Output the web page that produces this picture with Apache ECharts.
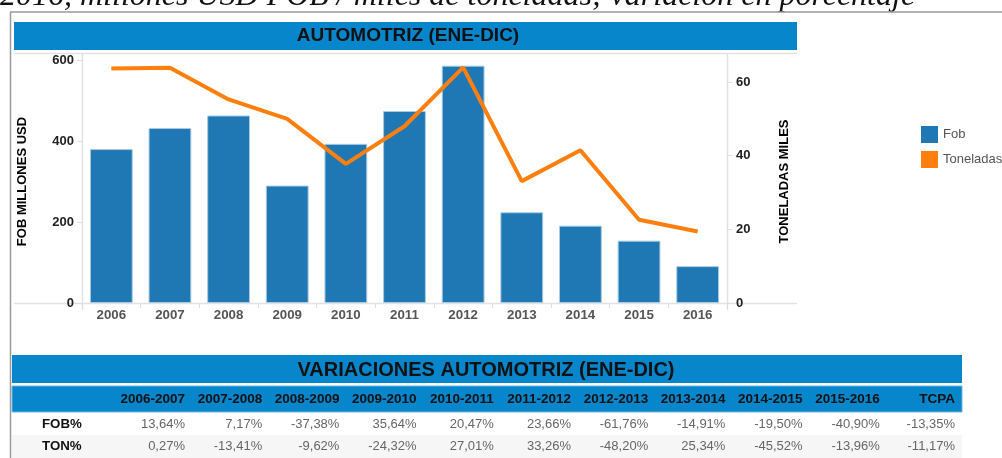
<!DOCTYPE html>
<html>
<head>
<meta charset="utf-8">
<script src="https://cdn.jsdelivr.net/npm/echarts@6/dist/echarts.min.js"></script>
<style>
  html, body { margin: 0; padding: 0; background: #fff; }
  #chart { width: 1002px; height: 458px; }
</style>
</head>
<body>
<div id="chart"></div>
<script>
// data
const years = ['2006', '2007', '2008', '2009', '2010', '2011', '2012', '2013', '2014', '2015', '2016'];
const fob = [380, 432, 463, 290, 393, 474, 586, 224, 191, 154, 91];
const toneladas = [63.7, 63.9, 55.3, 50.0, 37.8, 48.0, 64.0, 33.1, 41.5, 22.6, 19.4];

const periods = ['2006-2007', '2007-2008', '2008-2009', '2009-2010', '2010-2011', '2011-2012',
  '2012-2013', '2013-2014', '2014-2015', '2015-2016', 'TCPA'];
const fobVar = ['13,64%', '7,17%', '-37,38%', '35,64%', '20,47%', '23,66%', '-61,76%', '-14,91%', '-19,50%', '-40,90%', '-13,35%'];
const tonVar = ['0,27%', '-13,41%', '-9,62%', '-24,32%', '27,01%', '33,26%', '-48,20%', '25,34%', '-45,52%', '-13,96%', '-11,17%'];

const FONT = '"Liberation Sans", Arial, sans-serif';
const BLUE = '#0786cc';

const chart = echarts.init(document.getElementById('chart'));

// table built from the arrays above
const tableGraphics = [];
const colRight = (i) => i < 10 ? 185 + i * 77.2 : 955;
periods.forEach((p, i) => {
  tableGraphics.push({ type: 'text', x: colRight(i), y: 399,
    style: { text: p, fill: '#111', font: 'bold 13.5px ' + FONT, align: 'right', verticalAlign: 'middle' } });
  tableGraphics.push({ type: 'text', x: colRight(i), y: 424,
    style: { text: fobVar[i], fill: '#666', font: '13px ' + FONT, align: 'right', verticalAlign: 'middle' } });
  tableGraphics.push({ type: 'text', x: colRight(i), y: 446,
    style: { text: tonVar[i], fill: '#666', font: '13px ' + FONT, align: 'right', verticalAlign: 'middle' } });
});

const option = {
  animation: false,
  textStyle: { fontFamily: FONT },
  grid: { left: 82, right: 275, top: 60, bottom: 155 },
  legend: {
    orient: 'vertical', left: 921, top: 126, padding: 0,
    itemWidth: 17, itemHeight: 17, itemGap: 8,
    itemStyle: { borderWidth: 0 },
    textStyle: { color: '#555', fontSize: 13, fontFamily: FONT },
    data: [{ name: 'Fob', icon: 'rect' }, { name: 'Toneladas', icon: 'rect' }]
  },
  xAxis: {
    type: 'category', data: years,
    axisLine: { show: false },
    axisTick: { show: true, length: 5, lineStyle: { color: '#ddd' } },
    axisLabel: { color: '#555', fontWeight: 'bold', fontSize: 13.3, margin: 6 }
  },
  yAxis: [
    {
      type: 'value', min: 0, max: 600, interval: 200,
      name: 'FOB MILLONES USD', nameLocation: 'middle', nameGap: 53, nameRotate: 90,
      nameTextStyle: { color: '#000', fontWeight: 'bold', fontSize: 13 },
      axisLine: { show: false },
      axisTick: { show: true, length: 5, lineStyle: { color: '#ddd' } },
      axisLabel: { color: '#222', fontWeight: 'bold', fontSize: 13, margin: 8 },
      splitLine: { show: false }
    },
    {
      type: 'value', min: 0, max: 66, interval: 20,
      name: 'TONELADAS MILES', nameLocation: 'middle', nameGap: 51, nameRotate: 90,
      nameTextStyle: { color: '#000', fontWeight: 'bold', fontSize: 13 },
      axisLine: { show: false },
      axisTick: { show: true, length: 5, lineStyle: { color: '#ddd' } },
      axisLabel: { color: '#222', fontWeight: 'bold', fontSize: 13, margin: 9, showMaxLabel: false },
      splitLine: { show: false }
    }
  ],
  series: [
    {
      name: 'Fob', type: 'bar', data: fob, yAxisIndex: 0,
      barCategoryGap: '27%',
      itemStyle: { color: '#1f77b4', borderColor: '#a9cbe3', borderWidth: 1 }
    },
    {
      name: 'Toneladas', type: 'line', data: toneladas, yAxisIndex: 1,
      showSymbol: false, symbol: 'none',
      itemStyle: { color: '#ff7f0e' },
      lineStyle: { color: '#ff7f0e', width: 4 }
    }
  ],
  graphic: [
    // cut-off caption at the very top
    { type: 'text', x: 0, y: 13, style: { text: '2016, millones USD FOB / miles de toneladas; variación en porcentaje',
      fill: '#111', font: 'italic 32px "Liberation Serif", serif', verticalAlign: 'bottom' } },
    // outer frame
    { type: 'line', shape: { x1: 10, y1: 12, x2: 1002, y2: 12 }, style: { stroke: '#9a9a9a', lineWidth: 1.5 } },
    { type: 'line', shape: { x1: 10.5, y1: 12, x2: 10.5, y2: 458 }, style: { stroke: '#9a9a9a', lineWidth: 1.5 } },
    // chart title bar
    { type: 'rect', shape: { x: 14, y: 22, width: 783, height: 28 }, style: { fill: BLUE } },
    { type: 'text', x: 408, y: 36, style: { text: 'AUTOMOTRIZ (ENE-DIC)', fill: '#111',
      font: 'bold 19px ' + FONT, align: 'center', verticalAlign: 'middle' } },
    // plot panel frame
    { type: 'line', shape: { x1: 14, y1: 53.5, x2: 797, y2: 53.5 }, style: { stroke: '#e2e2e2', lineWidth: 1.5 } },
    { type: 'line', shape: { x1: 14, y1: 303.5, x2: 797, y2: 303.5 }, style: { stroke: '#e2e2e2', lineWidth: 1.5 } },
    { type: 'line', shape: { x1: 82.5, y1: 53, x2: 82.5, y2: 310 }, style: { stroke: '#e2e2e2', lineWidth: 1.5 } },
    { type: 'line', shape: { x1: 727.5, y1: 53, x2: 727.5, y2: 310 }, style: { stroke: '#e2e2e2', lineWidth: 1.5 } },
    // table title and header bars
    { type: 'rect', shape: { x: 12, y: 355, width: 950, height: 28 }, style: { fill: BLUE } },
    { type: 'text', x: 486, y: 370, style: { text: 'VARIACIONES AUTOMOTRIZ (ENE-DIC)', fill: '#111',
      font: 'bold 20px ' + FONT, align: 'center', verticalAlign: 'middle' } },
    { type: 'rect', shape: { x: 12, y: 386, width: 950, height: 26 }, style: { fill: BLUE, stroke: '#6fb6e0', lineWidth: 1 } },
    { type: 'rect', shape: { x: 12, y: 435, width: 950, height: 23 }, style: { fill: '#f6f6f6' } },
    { type: 'text', x: 42, y: 424, style: { text: 'FOB%', fill: '#111', font: 'bold 13.3px ' + FONT, verticalAlign: 'middle' } },
    { type: 'text', x: 42, y: 446, style: { text: 'TON%', fill: '#111', font: 'bold 13.3px ' + FONT, verticalAlign: 'middle' } }
  ].concat(tableGraphics)
};

chart.setOption(option);
window.addEventListener('resize', () => chart.resize());
</script>
</body>
</html>
